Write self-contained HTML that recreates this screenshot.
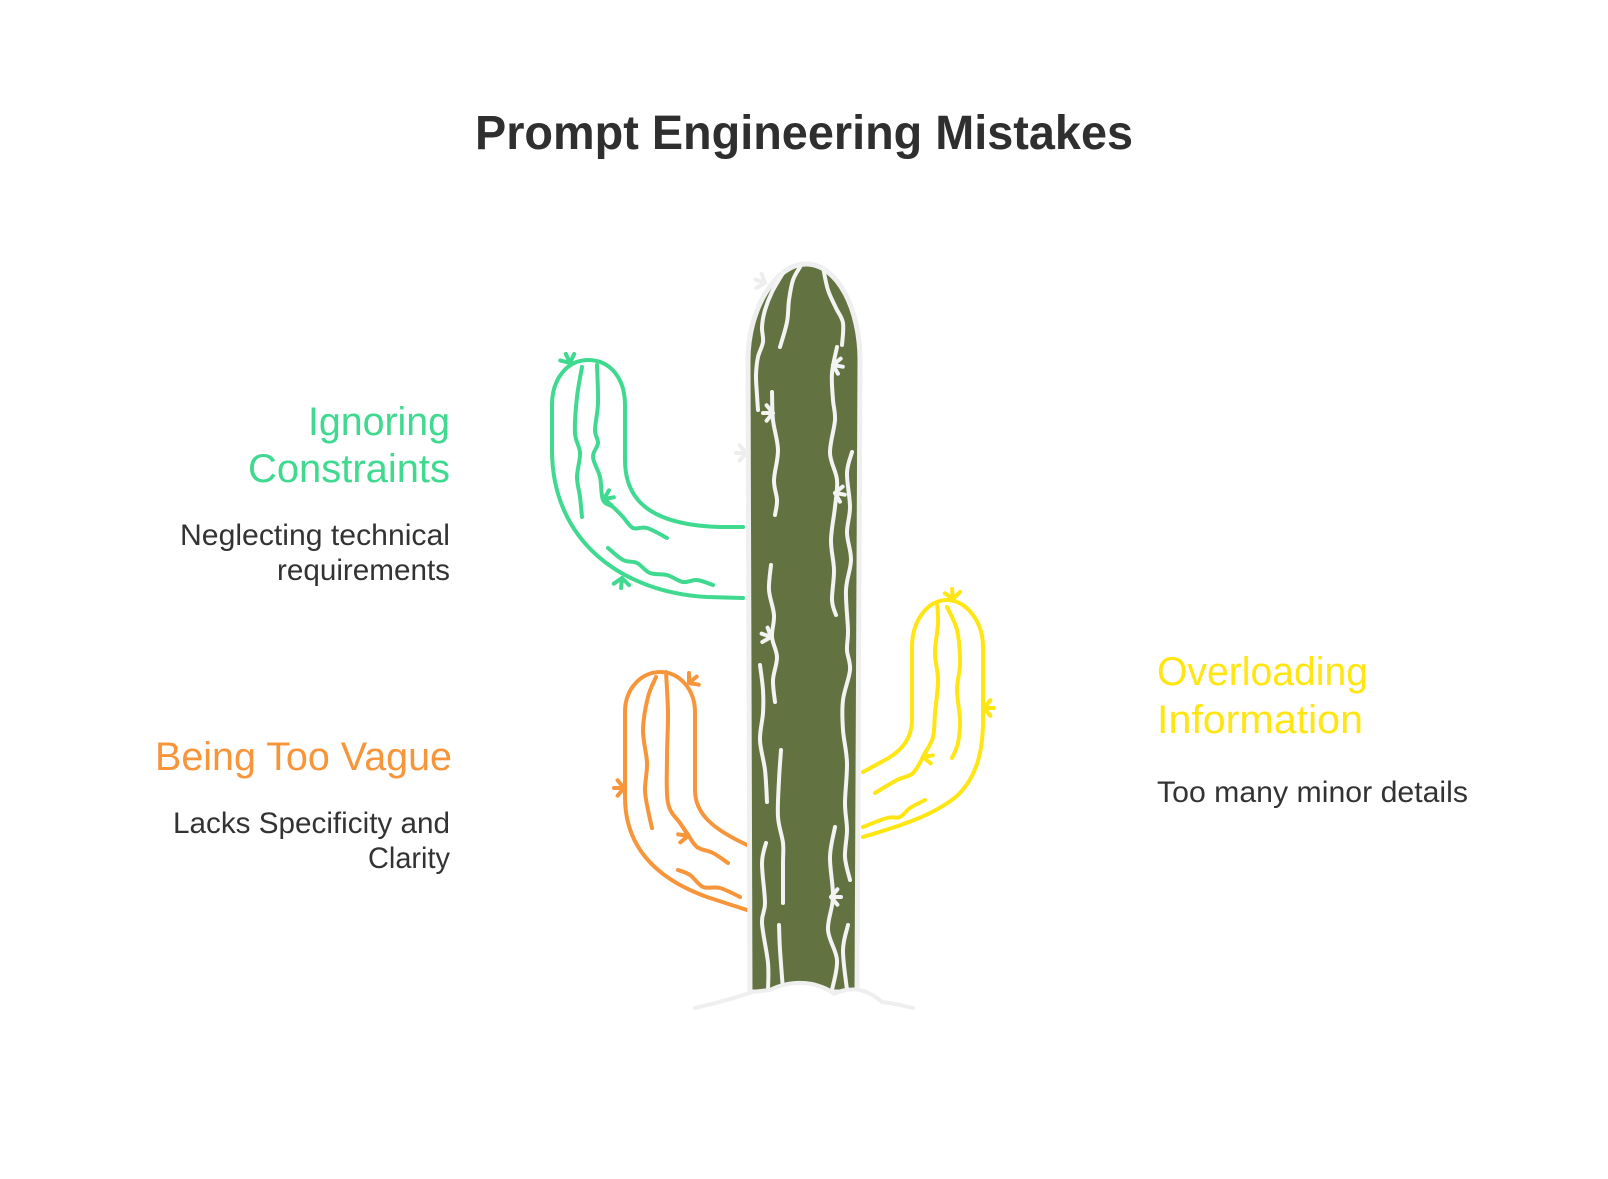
<!DOCTYPE html>
<html>
<head>
<meta charset="utf-8">
<style>
html,body{margin:0;padding:0;background:#ffffff;}
svg{display:block;}
text{font-family:"Liberation Sans",Arial,sans-serif;}
</style>
</head>
<body>
<svg id="cv" width="1608" height="1179" viewBox="0 0 1608 1179" xmlns="http://www.w3.org/2000/svg">
<rect width="1608" height="1179" fill="#ffffff"/>

<!-- Title -->
<text x="475" y="149" font-size="48" font-weight="bold" fill="#2f2f2f" textLength="658" lengthAdjust="spacingAndGlyphs">Prompt Engineering Mistakes</text>

<!-- Left texts -->
<text x="308" y="435" font-size="40" fill="#3fd98f" textLength="142" lengthAdjust="spacingAndGlyphs">Ignoring</text>
<text x="248" y="482" font-size="40" fill="#3fd98f" textLength="202" lengthAdjust="spacingAndGlyphs">Constraints</text>
<text x="180" y="545" font-size="30" fill="#333333" textLength="270" lengthAdjust="spacingAndGlyphs">Neglecting technical</text>
<text x="277" y="580" font-size="30" fill="#333333" textLength="173" lengthAdjust="spacingAndGlyphs">requirements</text>

<text x="155" y="770" font-size="40" fill="#f7953b" textLength="297" lengthAdjust="spacingAndGlyphs">Being Too Vague</text>
<text x="173" y="833" font-size="30" fill="#333333" textLength="277" lengthAdjust="spacingAndGlyphs">Lacks Specificity and</text>
<text x="368" y="868" font-size="30" fill="#333333" textLength="82" lengthAdjust="spacingAndGlyphs">Clarity</text>

<!-- Right texts -->
<text x="1157" y="685" font-size="40" fill="#ffe512" textLength="211" lengthAdjust="spacingAndGlyphs">Overloading</text>
<text x="1157" y="733" font-size="40" fill="#ffe512" textLength="206" lengthAdjust="spacingAndGlyphs">Information</text>
<text x="1157" y="802" font-size="30" fill="#333333" textLength="311" lengthAdjust="spacingAndGlyphs">Too many minor details</text>

<g fill="none" stroke-linecap="round" stroke-linejoin="round">

<!-- Green arm -->
<g stroke="#3fd98f" stroke-width="4">
<path d="M743,598 L707,597 C620,592 552,540 552,450 L552,405 C552,378 568,360 588,360 C610,360 625,378 625,405 L625,460 C625,500 650,525 720,527 L743,527"/>
<polyline class="s" points="582,367 577,397 575,433 580,453 577,477 580,497 582,517"/>
<polyline class="s" points="597,365 598,403 595,430 598,443 593,457 600,477 603,500 613,507 623,517 633,528 647,528 667,538"/>
<polyline class="s" points="608,548 623,560 637,563 650,573 667,575 683,582 697,580 713,585"/>
<path d="M570,363 L560.3,360.4 M570,363 L565.8,353.9 M570,363 L574.2,353.9"/>
<path d="M604,499 L609,490.3 M604,499 L613.8,497.3 M604,499 L611.7,505.4"/>
<path d="M622,578 L629.1,585.1 M622,578 L621.1,588 M622,578 L613.8,583.7"/>
</g>

<!-- Orange arm -->
<g stroke="#f7953b" stroke-width="4">
<path d="M747,910 L707,897 C660,880 625,850 625,797 L625,712 C625,688 642,672 660,672 C680,672 695,690 695,712 L695,790 C695,815 715,830 747,845"/>
<polyline class="s" points="656,677 648,697 643,730 647,763 645,790 648,810 652,828"/>
<polyline class="s" points="666,672 668,713 667,757 668,803 680,823 687,833 697,847 713,853 728,863"/>
<polyline class="s" points="678,870 690,875 703,887 720,888 740,897"/>
<path d="M689,683 L689,673 M689,683 L696.7,676.6 M689,683 L698.8,684.7"/>
<path d="M624,788 L617.6,795.7 M624,788 L614,788 M624,788 L617.6,780.3"/>
<path d="M688,836 L680.3,842.4 M688,836 L678.2,834.3 M688,836 L683,827.3"/>
</g>

<!-- Yellow arm -->
<g stroke="#ffe512" stroke-width="4">
<path d="M863,837 C900,826 935,815 958,795 C975,778 983,755 983,720 L983,647 C983,620 965,600 947,600 C928,600 912,620 912,647 L912,720 C912,740 900,752 885,760 L863,772"/>
<polyline class="s" points="937,602 938,623 935,653 938,680 935,713 933,737 925,753 913,773 897,780 875,793"/>
<polyline class="s" points="947,607 957,630 960,663 957,690 960,720 958,743 952,758"/>
<polyline class="s" points="925,800 910,808 900,817 887,818 863,827"/>
<path d="M953,599 L944.8,593.3 M953,599 L952.1,589 M953,599 L960.1,591.9"/>
<path d="M984,708 L990.4,700.3 M984,708 L994,708 M984,708 L990.4,715.7"/>
<path d="M923,757 L928,748.3 M923,757 L932.8,755.3 M923,757 L930.7,763.4"/>
</g>

<!-- Gray spines outside trunk -->
<g stroke="#eeeeee" stroke-width="4">
<path d="M765,283 L756.3,288 M765,283 L755.6,279.6 M765,283 L761.6,273.6"/>
<path d="M746,453 L739.6,460.7 M746,453 L736,453 M746,453 L739.6,445.3"/>
</g>

<!-- Trunk -->
<path d="M750,992 L748,360 C748,310 775,264 806,264 C838,264 860,310 860,360 L857,992 Z" fill="#627240" stroke="#efefef" stroke-width="5"/>

<!-- Trunk stripes -->
<g stroke="#f3f3f3" stroke-width="4">
<polyline class="s" points="800,267 793,280 789,300 787,322 780,347"/>
<polyline class="s" points="783,273 772,292 765,310 762,327 763,342 758,357 756,375 757,395 758,410"/>
<polyline class="s" points="772,392 773,420 778,450 774,480 777,500 775,515"/>
<polyline class="s" points="823,267 828,290 836,308 843,323 842,345"/>
<polyline class="s" points="837,347 832,373 833,400 835,420 830,453 837,480 835,507 831,540 834,570 832,600 836,615"/>
<polyline class="s" points="852,452 847,473 850,507 847,533 851,560 846,590 848,630 847,650 850,670 843,700 843,730 847,763 845,803 847,830 845,857 850,880"/>
<polyline class="s" points="771,565 769,590 774,615 772,637 777,657 773,680 775,702"/>
<polyline class="s" points="760,665 763,690 763,713 760,740 765,770 767,802"/>
<polyline class="s" points="781,750 779,780 778,817 783,843 783,863 783,903"/>
<polyline class="s" points="766,843 762,863 765,903 762,923 768,963 768,990"/>
<polyline class="s" points="779,925 780,950 783,990"/>
<polyline class="s" points="835,827 830,857 833,897 828,930 837,960 832,990"/>
<polyline class="s" points="848,925 843,950 847,990"/>
<path d="M773,413 L766.6,420.7 M773,413 L763,413 M773,413 L766.6,405.3"/>
<path d="M833,365 L840.7,358.6 M833,365 L842.8,366.7 M833,365 L838,373.7"/>
<path d="M835,493 L842.7,486.6 M835,493 L844.8,494.7 M835,493 L840,501.7"/>
<path d="M771,637 L762.3,642 M771,637 L761.6,633.6 M771,637 L767.6,627.6"/>
<path d="M831,897 L837.4,889.3 M831,897 L841,897 M831,897 L837.4,904.7"/>
</g>

<!-- Ground mound -->
<path d="M693,1010 Q730,1000 752,992 L770,990 Q790,980 812,984 Q828,988 834,994 Q845,988 860,990 Q872,993 882,1002 Q898,1004 915,1010 L915,1030 L693,1030 Z" fill="#ffffff" stroke="none"/>
<path d="M695,1008 Q730,1000 752,992 L770,990 Q790,980 812,984 Q828,988 834,994 Q845,988 860,990 Q872,993 882,1002 Q898,1004 913,1008" stroke="#efefef" stroke-width="4"/>
</g>
</svg>
<script>
(function(){
  var NS="http://www.w3.org/2000/svg";
  var pls=document.querySelectorAll("polyline.s");
  for(var i=0;i<pls.length;i++){
    var pl=pls[i];
    var nums=pl.getAttribute("points").trim().split(/[\s,]+/).map(Number);
    var p=[];
    for(var j=0;j<nums.length;j+=2){p.push([nums[j],nums[j+1]]);}
    if(p.length<3)continue;
    var d="M"+p[0][0]+","+p[0][1];
    for(var k=0;k<p.length-1;k++){
      var p0=p[k-1]||p[k],p1=p[k],p2=p[k+1],p3=p[k+2]||p[k+1];
      var c1x=p1[0]+(p2[0]-p0[0])/6,c1y=p1[1]+(p2[1]-p0[1])/6;
      var c2x=p2[0]-(p3[0]-p1[0])/6,c2y=p2[1]-(p3[1]-p1[1])/6;
      d+=" C"+c1x.toFixed(1)+","+c1y.toFixed(1)+" "+c2x.toFixed(1)+","+c2y.toFixed(1)+" "+p2[0]+","+p2[1];
    }
    var path=document.createElementNS(NS,"path");
    path.setAttribute("d",d);
    pl.parentNode.replaceChild(path,pl);
  }
})();
</script>
</body>
</html>
